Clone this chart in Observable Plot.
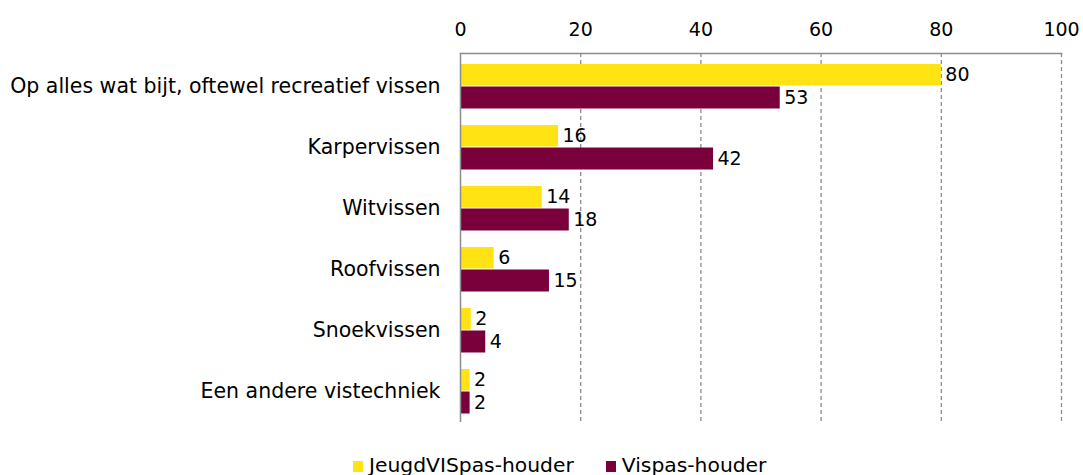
<!DOCTYPE html>
<html>
<head>
<meta charset="utf-8">
<script src="https://cdn.jsdelivr.net/npm/d3@7"></script>
<script src="https://cdn.jsdelivr.net/npm/@observablehq/plot@0.6"></script>
<style>
  body { margin: 0; background: #fff; font-family: "DejaVu Sans", sans-serif; }
  #wrap { position: relative; width: 1083px; height: 475px; overflow: hidden; }
  #legend { position: absolute; left: 353px; top: 454px; white-space: nowrap; font-size: 20.3px; line-height: 23px; color: #000; }
  .sw { display: inline-block; width: 10px; height: 11px; margin-right: 6px; vertical-align: baseline; }
  .item { display: inline-block; }
</style>
</head>
<body>
<div id="wrap">
  <div id="chart"></div>
  <div id="legend"></div>
</div>
<script>
const categories = [
  "Op alles wat bijt, oftewel recreatief vissen",
  "Karpervissen",
  "Witvissen",
  "Roofvissen",
  "Snoekvissen",
  "Een andere vistechniek"
];
const seriesNames = ["JeugdVISpas-houder", "Vispas-houder"];
const jeugdValues = [80, 16.3, 13.6, 5.6, 1.8, 1.6];
const vispasValues = [53.2, 42.1, 18.1, 14.8, 4.2, 1.6];
const xTicks = [0, 20, 40, 60, 80, 100];
const colors = ["#FFE312", "#7A003C"];

const jeugdRows = categories.map((c, i) => ({category: c, series: seriesNames[0], value: jeugdValues[i]}));
const vispasRows = categories.map((c, i) => ({category: c, series: seriesNames[1], value: vispasValues[i]}));
const fmt = d3.format(".0f");
const gray = "#8c8c8c";

const plot = Plot.plot({
  width: 1083,
  height: 445,
  marginTop: 53,
  marginBottom: 23,
  marginLeft: 460,
  marginRight: 22,
  style: {fontFamily: "DejaVu Sans, sans-serif", fontSize: "19px", color: "#000", background: "#fff"},
  x: {domain: [0, 100]},
  y: {domain: categories, padding: 0},
  color: {domain: seriesNames, range: colors},
  marks: [
    Plot.gridX(xTicks.filter(d => d > 0), {stroke: gray, strokeOpacity: 1, strokeWidth: 1.3, strokeDasharray: "4,3"}),
    Plot.barX(jeugdRows, {x: "value", y: "category", fill: "series", insetTop: 9, insetBottom: 30.5}),
    Plot.barX(vispasRows, {x: "value", y: "category", fill: "series", insetTop: 31.5, insetBottom: 7.5}),
    Plot.frame({anchor: "top", stroke: gray, strokeWidth: 1.5}),
    Plot.ruleX([0], {stroke: gray, strokeWidth: 1.5}),
    Plot.axisX(xTicks, {anchor: "top", tickSize: 0, tickPadding: 18, fontSize: 19, fill: "#000", label: null}),
    Plot.axisY({anchor: "left", tickSize: 0, tickPadding: 20, fontSize: 20.5, fill: "#000", label: null}),
    Plot.text(jeugdRows, {x: "value", y: "category", text: d => fmt(d.value), dx: 4, dy: -10.75, textAnchor: "start", fill: "#000", fontSize: 19}),
    Plot.text(vispasRows, {x: "value", y: "category", text: d => fmt(d.value), dx: 4, dy: 12, textAnchor: "start", fill: "#000", fontSize: 19})
  ]
});
document.getElementById("chart").appendChild(plot);

const legend = document.getElementById("legend");
seriesNames.forEach((name, i) => {
  const item = document.createElement("span");
  item.className = "item";
  if (i > 0) item.style.marginLeft = "32px";
  const sw = document.createElement("span");
  sw.className = "sw";
  sw.style.background = colors[i];
  item.appendChild(sw);
  item.appendChild(document.createTextNode(name));
  legend.appendChild(item);
});
</script>
</body>
</html>
